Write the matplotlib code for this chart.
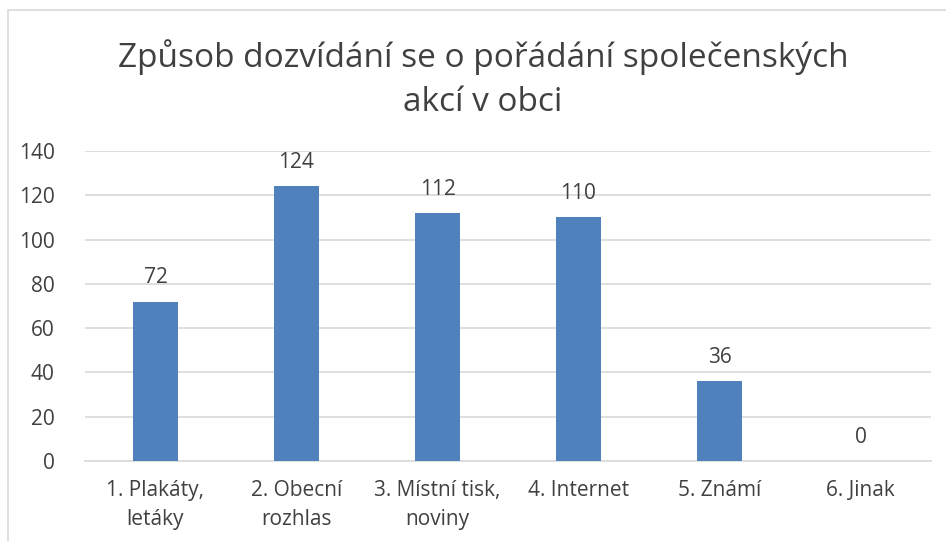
import matplotlib
matplotlib.use("Agg")
import matplotlib.pyplot as plt
from matplotlib.patches import Rectangle
from matplotlib import font_manager

categories = ["1. Plakáty,\nletáky", "2. Obecní\nrozhlas", "3. Místní tisk,\nnoviny",
              "4. Internet", "5. Známí", "6. Jinak"]
values = [72, 124, 112, 110, 36, 0]
yticks = [0, 20, 40, 60, 80, 100, 120, 140]
title = "Způsob dozvídání se o pořádání společenských\nakcí v obci"

names = {f.name for f in font_manager.fontManager.ttflist}
fam = "Liberation Sans Narrow" if "Liberation Sans Narrow" in names else "Open Sans"
plt.rcParams['font.family'] = [fam, 'DejaVu Sans']

txt = "#404040"
fig = plt.figure(figsize=(9.46, 5.41), dpi=100)
fig.patches.append(Rectangle((8/946, -0.1), 2, 1.1 - 10/541, transform=fig.transFigure,
                             fill=False, edgecolor="#d9d9d9", linewidth=1.2))
ax = fig.add_axes([85/946, 1 - 461/541, 846/946, 310/541])
x = list(range(len(categories)))
ax.bar(x, values, width=0.32, color="#4f81bd", zorder=3)
for xi, v in zip(x, values):
    ax.text(xi, v + 6, str(v), ha="center", va="bottom", fontsize=15, color=txt)
ax.set_xlim(-0.5, len(categories) - 0.5)
ax.set_ylim(0, 140)
ax.set_yticks(yticks)
ax.set_xticks(x)
ax.set_xticklabels(categories, fontsize=15, color=txt, linespacing=1.45)
ax.tick_params(axis="y", labelsize=15, labelcolor=txt, length=0, pad=22)
ax.tick_params(axis="x", length=0, pad=14)
ax.yaxis.grid(True, color="#d9d9d9", linewidth=1.2, zorder=0)
for s in ["top", "right", "left"]:
    ax.spines[s].set_visible(False)
ax.spines["bottom"].set_color("#d9d9d9")
ax.spines["bottom"].set_linewidth(1.2)
fig.text(483/946, 1 - 79/541, title, ha="center", va="center", fontsize=24,
         color=txt, linespacing=1.45)
fig.savefig("out.png", dpi=100)
